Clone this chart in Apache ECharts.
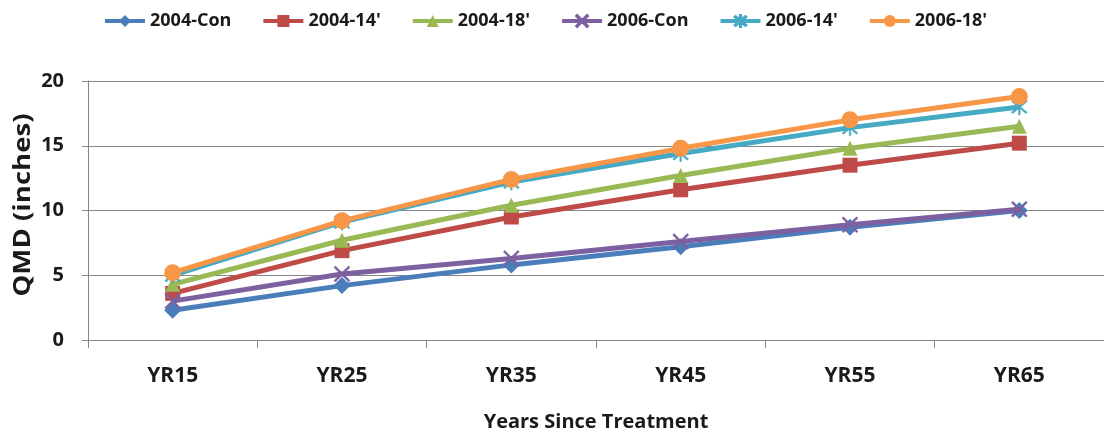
<!DOCTYPE html>
<html>
<head>
<meta charset="utf-8">
<script src="https://cdn.jsdelivr.net/npm/echarts@6/dist/echarts.min.js"></script>
<style>html,body{margin:0;padding:0;background:#fff;}#c{width:1104px;height:437px;}</style>
</head>
<body>
<div id="c"></div>
<script>
const categories = ['YR15', 'YR25', 'YR35', 'YR45', 'YR55', 'YR65'];
const yTicks = [0, 5, 10, 15, 20];
const s2004Con = [2.3, 4.2, 5.8, 7.2, 8.7, 10.0];
const s2004_14 = [3.6, 6.9, 9.5, 11.6, 13.5, 15.2];
const s2004_18 = [4.3, 7.7, 10.4, 12.7, 14.8, 16.5];
const s2006Con = [3.0, 5.1, 6.3, 7.6, 8.9, 10.1];
const s2006_14 = [5.0, 9.1, 12.2, 14.4, 16.4, 18.0];
const s2006_18 = [5.2, 9.2, 12.4, 14.8, 17.0, 18.8];
const seriesNames = ['2004-Con', "2004-14'", "2004-18'", '2006-Con', "2006-14'", "2006-18'"];
const xTitle = 'Years Since Treatment';
const yTitle = 'QMD (inches)';

const XPATH = 'path://M0,0.9L0.9,0L5,4.1L9.1,0L10,0.9L5.9,5L10,9.1L9.1,10L5,5.9L0.9,10L0,9.1L4.1,5Z';
const STARPATH = 'path://M0,0.9L0.9,0L5,4.1L9.1,0L10,0.9L5.9,5L10,9.1L9.1,10L5,5.9L0.9,10L0,9.1L4.1,5Z M4.5,-1L5.5,-1L5.5,11L4.5,11Z';

const colors = ['#4A7EBB', '#BE4B48', '#98B954', '#7D60A0', '#46AAC5', '#F79646'];
const symbols = ['diamond', 'rect', 'triangle', XPATH, STARPATH, 'circle'];
const sizes = [17, 15, 15, 16, 16, 17];
const data = [s2004Con, s2004_14, s2004_18, s2006Con, s2006_14, s2006_18];

const font = '"Open Sans", "Liberation Sans", sans-serif';
const txt = '#1a1a1a';

const chart = echarts.init(document.getElementById('c'), null, {renderer: 'canvas'});
chart.setOption({
  animation: false,
  backgroundColor: '#ffffff',
  color: colors,
  legend: {
    top: 7,
    left: 98,
    itemWidth: 40,
    itemHeight: 15,
    itemGap: 30,
    lineStyle: {width: 4},
    textStyle: {fontFamily: font, fontSize: 18, fontWeight: 'bold', color: txt},
    data: seriesNames
  },
  grid: {left: 88, top: 81, width: 1022, height: 260, containLabel: false},
  xAxis: {
    type: 'category',
    data: categories,
    boundaryGap: true,
    axisLine: {lineStyle: {color: '#868686', width: 1}},
    axisTick: {show: true, length: 8, lineStyle: {color: '#868686'}},
    axisLabel: {fontFamily: font, fontSize: 21, fontWeight: 'bold', color: txt, margin: 26},
    name: xTitle,
    nameLocation: 'middle',
    nameGap: 72,
    nameTextStyle: {fontFamily: font, fontSize: 20, fontWeight: 'bold', color: txt}
  },
  yAxis: {
    type: 'value',
    min: 0,
    max: 20,
    interval: 5,
    axisLine: {show: true, lineStyle: {color: '#868686', width: 1}},
    axisTick: {show: true, length: 6, lineStyle: {color: '#868686'}},
    axisLabel: {fontFamily: font, fontSize: 20, fontWeight: 'bold', color: txt, margin: 24,
      formatter: v => yTicks.includes(v) ? String(v) : ''},
    splitLine: {show: true, lineStyle: {color: '#868686', width: 1}}
  },
  graphic: [{
    type: 'text',
    x: 23,
    y: 205,
    rotation: Math.PI / 2,
    scaleX: 1.2,
    scaleY: 1,
    style: {text: yTitle, font: 'bold 23px ' + font, fill: txt, align: 'center', verticalAlign: 'middle'}
  }],
  series: seriesNames.map((n, i) => ({
    name: n,
    type: 'line',
    data: data[i],
    symbol: symbols[i],
    symbolSize: sizes[i],
    showSymbol: true,
    lineStyle: {width: 5, color: colors[i]},
    itemStyle: {color: colors[i], borderColor: colors[i], borderWidth: (i === 3 || i === 4) ? 0.5 : 0},
    z: 2 + i
  }))
});
</script>
</body>
</html>
